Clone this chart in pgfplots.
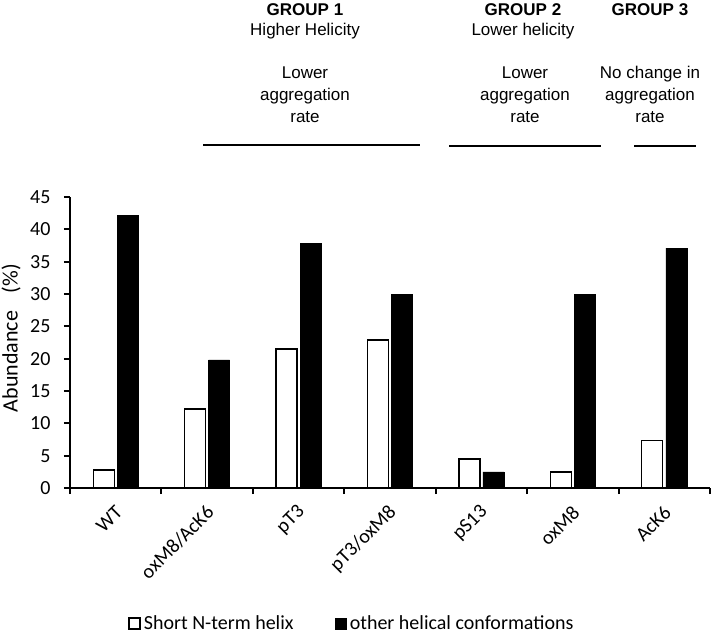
\documentclass[border=0pt]{standalone}
\usepackage{pgfplots}
\pgfplotsset{compat=1.18}
\usepackage{fontspec}
\setmainfont{Carlito}
\newfontfamily\arial{Liberation Sans}
\pgfplotsset{boxlegend/.style={legend image code/.code={\draw[##1] (0bp,-6bp) rectangle (11bp,5bp); \path[draw=none,fill=none] (0bp,0bp) -- (13bp,0bp);}}}
\begin{document}
\begin{tikzpicture}
\useasboundingbox (-70bp,-146bp) rectangle (643bp,488bp);
\begin{axis}[
  at={(0,0)}, anchor=south west,
  scale only axis, width=640bp, height=291bp,
  xmin=-0.5, xmax=6.5, ymin=0, ymax=45,
  axis x line*=bottom, axis y line*=left,
  axis line style={line width=2bp},
  tick style={line width=2bp, black},
  tick align=outside, major tick length=6bp,
  ytick={0,5,...,45},
  xtick={-0.5,0.5,...,6.5},
  x tick label as interval,
  xticklabels={WT, oxM8/AcK6, pT3, pT3/oxM8, pS13, oxM8, AcK6},
  xticklabel style={rotate=45, anchor=east, xshift=-5bp, yshift=-13bp},
  yticklabel style={xshift=-10bp},
  /pgf/number format/assume math mode=true,
  tick label style={font=\fontsize{20bp}{24bp}\selectfont},
  ylabel={Abundance\hspace{0.8em}(\%)},
  ylabel style={font=\fontsize{22bp}{26bp}\selectfont, at={(axis description cs:-0.092,0.515)}, anchor=center, rotate=0},
  ybar, bar width=21bp,
  legend columns=2,
  legend cell align=left,
  legend style={draw=none, fill=none, inner sep=0pt,
    at={(axis description cs:0.0906,-0.498)}, anchor=south west,
    font=\fontsize{20bp}{24bp}\selectfont,
    /tikz/every even column/.append style={column sep=39bp}},
]
\addplot[bar shift=-12bp, fill=white, draw=black, line width=1.4bp, boxlegend]
  coordinates {(0,2.8) (1,12.2) (2,21.5) (3,22.9) (4,4.5) (5,2.5) (6,7.3)};
\addlegendentry{Short N-term helix}
\addplot[bar shift=12bp, fill=black, draw=black, line width=0.5bp, boxlegend]
  coordinates {(0,42.2) (1,19.8) (2,37.8) (3,29.9) (4,2.5) (5,29.9) (6,37.1)};
\addlegendentry{other helical conformations}
\end{axis}
\begin{scope}[every node/.style={font=\arial\fontsize{17bp}{22bp}\selectfont, anchor=base, inner sep=0pt}]
\node at (235bp,472bp) {\bfseries GROUP 1};
\node at (235bp,452bp) {Higher Helicity};
\node at (235bp,409bp) {Lower};
\node at (235bp,387bp) {aggregation};
\node at (235bp,365bp) {rate};
\node at (453bp,472bp) {\bfseries GROUP 2};
\node at (453bp,452bp) {Lower helicity};
\node at (455bp,409bp) {Lower};
\node at (455bp,387bp) {aggregation};
\node at (455bp,365bp) {rate};
\node at (580bp,472bp) {\bfseries GROUP 3};
\node at (580bp,409bp) {No change in};
\node at (580bp,387bp) {aggregation};
\node at (580bp,365bp) {rate};
\end{scope}
\draw[line width=1.8bp] (133bp,343bp) -- (350bp,343bp);
\draw[line width=1.8bp] (379bp,342bp) -- (531bp,342bp);
\draw[line width=1.8bp] (564bp,342bp) -- (626bp,342bp);
\end{tikzpicture}
\end{document}
